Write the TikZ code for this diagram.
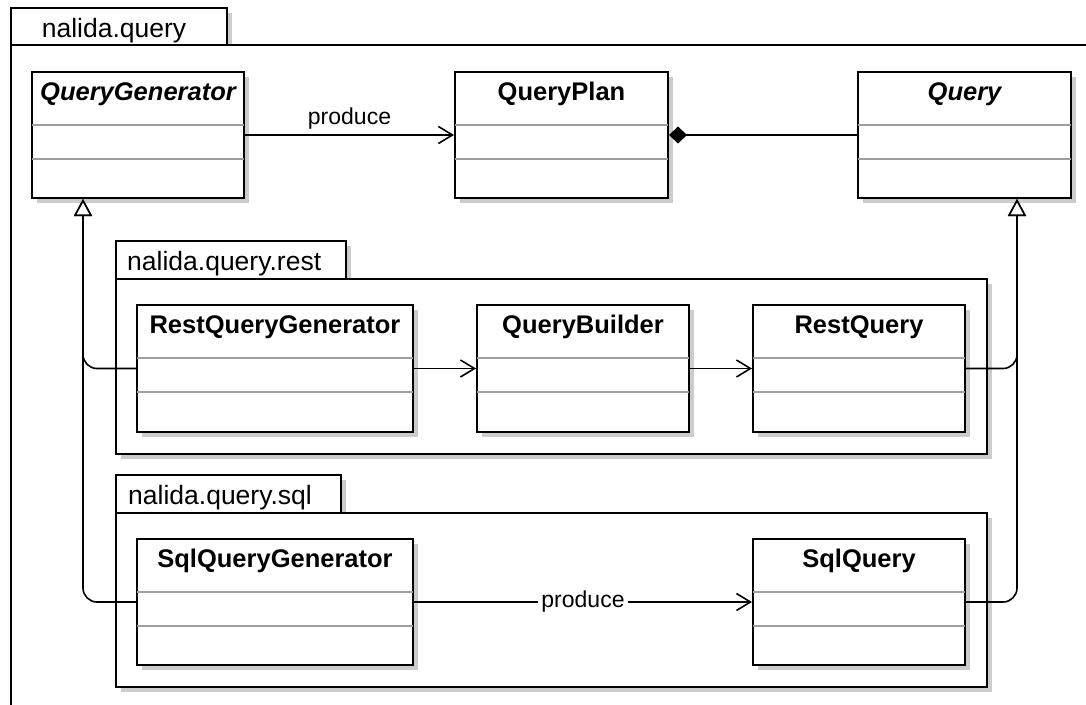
\documentclass[tikz,border=0pt]{standalone}
\usepackage{fontspec}
\setmainfont{Liberation Sans}
\usetikzlibrary{arrows.meta,shadows,calc}

\tikzset{
  shd/.style={general shadow={fill=black!20, shadow xshift=4.5pt, shadow yshift=-4.5pt}},
  box/.style={draw, line width=2pt, fill=white, shd, anchor=north west, inner sep=0pt},
  clsname/.style={anchor=base, inner sep=0pt, font=\fontsize{25.5}{30}\selectfont\bfseries},
  absname/.style={clsname, font=\fontsize{25.5}{30}\selectfont\bfseries\itshape},
  pkgname/.style={anchor=base, inner sep=0pt, font=\fontsize{26.5}{31}\selectfont},
  compline/.style={draw=black!38, line width=1.6pt},
  conn/.style={line width=1.6pt},
  assoc/.style={conn, -{Straight Barb[length=14pt, width=17pt]}},
  gen/.style={conn, rounded corners=14pt, -{Triangle[open, length=17pt, width=18pt, fill=white]}},
  compo/.style={conn, {Diamond[length=18pt, width=17pt]}-},
  lbl/.style={font=\fontsize{23}{28}\selectfont, inner sep=0pt},
}

% a class box with a name compartment and two empty compartments
\newcommand\umlclass[7]{% id, x, y, width, height, name style, name
  \node[box, minimum width=#4, minimum height=#5] (#1) at (#2,#3) {};
  \node[#6] at ([yshift=-29.5pt]#1.north) {#7};
  \draw[compline] ([yshift=-54pt,xshift=1pt]#1.north west) -- ([yshift=-54pt,xshift=-1pt]#1.north east);
  \draw[compline] ([yshift=-88pt,xshift=1pt]#1.north west) -- ([yshift=-88pt,xshift=-1pt]#1.north east);
}

\begin{document}
\begin{tikzpicture}[x=1pt, y=-1pt]
\useasboundingbox (0,0) rectangle (1086,704);
\clip (0,0) rectangle (1086,704);
\fill[white] (0,0) rectangle (1086,704);

% package nalida.query
\node[box, minimum width=216, minimum height=37] (pq tab) at (10,7) {};
\node[box, minimum width=1120, minimum height=700] (pq) at (10,44) {};
\node[pkgname] at ([yshift=-30pt,xshift=104pt]pq tab.north west) {nalida.query};

% package nalida.query.rest
\node[box, minimum width=230, minimum height=38] (pr tab) at (115,240) {};
\node[box, minimum width=871, minimum height=175] (pr) at (115,278) {};
\node[pkgname, anchor=base west] at ([yshift=-30pt,xshift=12pt]pr tab.north west) {nalida.query.rest};

% package nalida.query.sql
\node[box, minimum width=225, minimum height=38] (ps tab) at (115,474) {};
\node[box, minimum width=871, minimum height=174] (ps) at (115,512) {};
\node[pkgname, anchor=base west] at ([yshift=-30pt,xshift=13pt]ps tab.north west) {nalida.query.sql};

% classes
\umlclass{qg}{31}{71}{212}{126}{absname}{QueryGenerator}
\umlclass{qp}{454}{71}{213}{126}{clsname}{QueryPlan}
\umlclass{q}{857}{71}{213}{126}{absname}{Query}

\umlclass{rqg}{136}{304}{276}{127}{clsname}{RestQueryGenerator}
\umlclass{qb}{476}{304}{212}{127}{clsname}{QueryBuilder}
\umlclass{rq}{752}{304}{212}{127}{clsname}{RestQuery}

\umlclass{sqg}{136}{538}{276}{126}{clsname}{SqlQueryGenerator}
\umlclass{sq}{752}{538}{212}{126}{clsname}{SqlQuery}

% relations
\draw[assoc] (qg.east) -- node[lbl, above=11pt, anchor=base] {produce} (qp.west);
\draw[compo] (qp.east) -- (q.west);

\draw[assoc] (rqg.east) -- (qb.west);
\draw[assoc] (qb.east) -- (rq.west);
\draw[assoc] (sqg.east) -- node[lbl, fill=white, inner xsep=3pt] {produce} (sq.west);

\draw[gen] (rqg.west) -| ([xshift=52pt]qg.south west);
\draw[gen] (sqg.west) -| ([xshift=52pt]qg.south west);
\draw[gen] (rq.east) -| ([xshift=160pt]q.south west);
\draw[gen] (sq.east) -| ([xshift=160pt]q.south west);
\end{tikzpicture}
\end{document}
